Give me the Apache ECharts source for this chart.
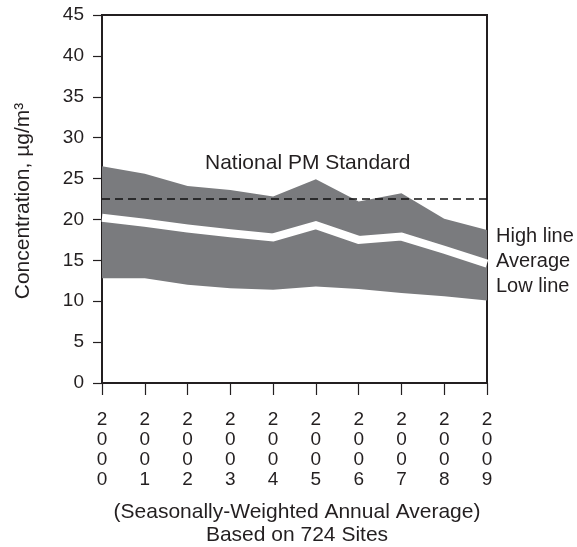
<!DOCTYPE html>
<html>
<head>
<meta charset="utf-8">
<script src="https://cdn.jsdelivr.net/npm/echarts@6/dist/echarts.min.js"></script>
<style>html,body{margin:0;padding:0;background:#fff;}#c{width:577px;height:547px;}</style>
</head>
<body>
<div id="c"></div>
<script>
const years = ['2000', '2001', '2002', '2003', '2004', '2005', '2006', '2007', '2008', '2009'];
const highLine = [26.5, 25.6, 24.1, 23.6, 22.8, 24.9, 22.2, 23.2, 20.1, 18.7];
const averageLine = [20.2, 19.6, 18.9, 18.3, 17.8, 19.3, 17.5, 17.9, 16.3, 14.6];
const lowLine = [12.8, 12.8, 12.0, 11.6, 11.4, 11.8, 11.5, 11.0, 10.6, 10.1];
const standard = 22.5;

const FONT = '"Liberation Sans", Arial, sans-serif';
const TXT = '#231f20';
const GREY = '#7a7b7e';

const chart = echarts.init(document.getElementById('c'), null, {renderer: 'canvas'});
chart.setOption({
  animation: false,
  backgroundColor: '#fff',
  textStyle: {fontFamily: FONT, color: TXT},
  grid: {left: 102, right: 90, top: 15, bottom: 164, show: true, borderColor: TXT, borderWidth: 2},
  xAxis: {
    type: 'category', data: years, boundaryGap: false,
    axisLine: {show: true, lineStyle: {color: TXT, width: 2}},
    axisTick: {show: true, length: 12, alignWithLabel: true, lineStyle: {color: TXT, width: 1.2}},
    splitLine: {show: false},
    axisLabel: {
      margin: 27, fontSize: 19, lineHeight: 20, color: TXT, fontFamily: FONT, interval: 0,
      formatter: v => String(v).split('').join('\n')
    }
  },
  yAxis: {
    type: 'value', min: 0, max: 45, interval: 5,
    axisLine: {show: true, lineStyle: {color: TXT, width: 2}},
    axisTick: {show: true, length: 9, lineStyle: {color: TXT, width: 1.2}},
    splitLine: {show: false},
    axisLabel: {margin: 18, fontSize: 19, color: TXT, fontFamily: FONT}
  },
  series: [
    {
      name: 'low', type: 'line', stack: 'band', symbol: 'none', silent: true,
      lineStyle: {width: 0, color: GREY},
      data: lowLine
    },
    {
      name: 'band', type: 'line', stack: 'band', symbol: 'none', silent: true,
      lineStyle: {width: 0, color: GREY},
      areaStyle: {color: GREY, opacity: 1},
      data: highLine.map((h, i) => +(h - lowLine[i]).toFixed(2))
    },
    {
      name: 'average', type: 'line', symbol: 'none', silent: true, z: 3,
      lineStyle: {color: '#ffffff', width: 8, join: 'miter'},
      data: averageLine
    },
    {
      name: 'standard', type: 'line', symbol: 'none', silent: true, z: 4,
      lineStyle: {color: '#111', width: 1.3, type: [8, 5]},
      data: years.map(() => standard)
    }
  ],
  graphic: [
    {type: 'text', left: 205, top: 153, style: {text: 'National PM Standard', font: '21px ' + FONT, fill: TXT}},
    {type: 'text', left: 496, top: 226, style: {text: 'High line', font: '20px ' + FONT, fill: TXT}},
    {type: 'text', left: 496, top: 251, style: {text: 'Average', font: '20px ' + FONT, fill: TXT}},
    {type: 'text', left: 496, top: 276, style: {text: 'Low line', font: '20px ' + FONT, fill: TXT}},
    {type: 'text', x: 23, y: 201, rotation: Math.PI / 2,
      style: {text: 'Concentration, µg/m³', font: '21px ' + FONT, fill: TXT, align: 'center', verticalAlign: 'middle'}},
    {type: 'text', x: 297, y: 512,
      style: {text: '(Seasonally-Weighted Annual Average)', font: '21px ' + FONT, fill: TXT, align: 'center', verticalAlign: 'middle'}},
    {type: 'text', x: 297, y: 535,
      style: {text: 'Based on 724 Sites', font: '21px ' + FONT, fill: TXT, align: 'center', verticalAlign: 'middle'}}
  ]
});
</script>
</body>
</html>
